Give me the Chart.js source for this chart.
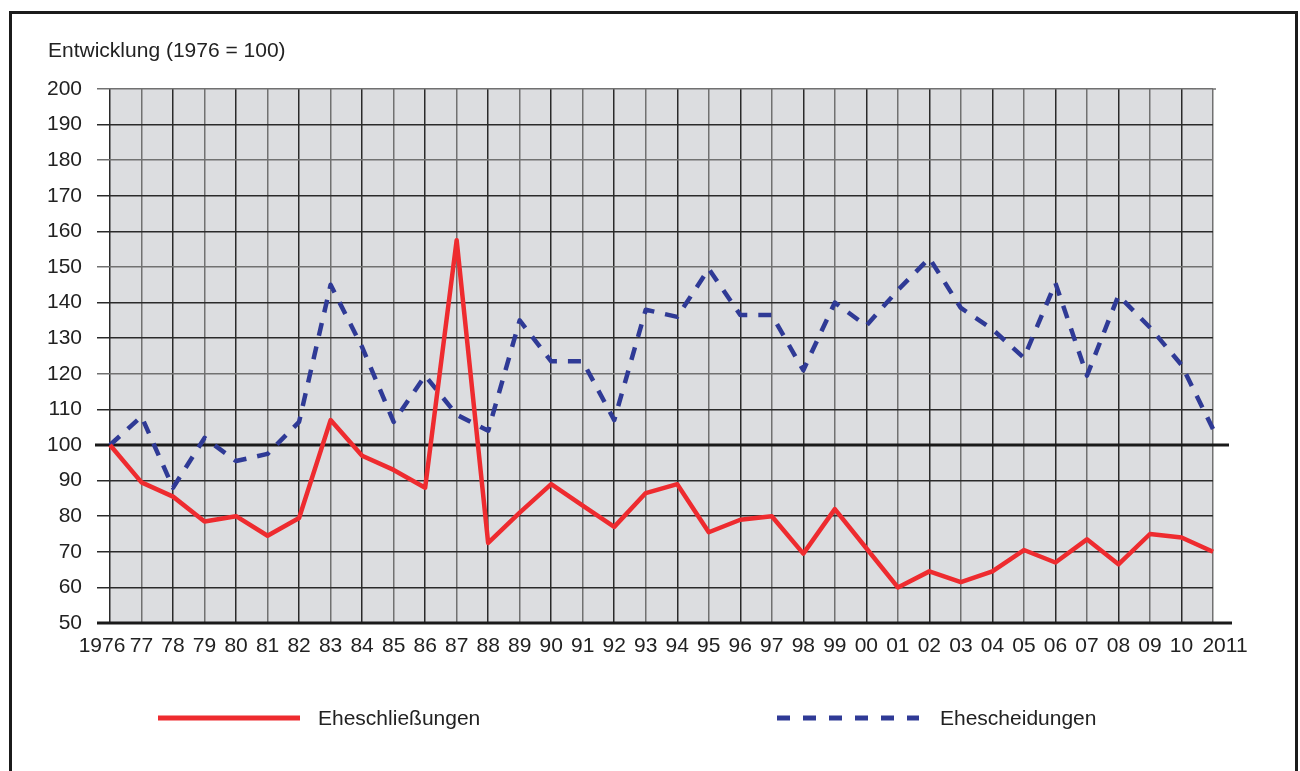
<!DOCTYPE html>
<html lang="de">
<head>
<meta charset="utf-8">
<title>Eheschließungen und Ehescheidungen</title>
<script src="https://cdn.jsdelivr.net/npm/chart.js@4.4.1/dist/chart.umd.min.js"></script>
<style>
  html, body { margin: 0; padding: 0; background: #fff; }
  #wrap { position: relative; width: 1300px; height: 771px; overflow: hidden; }
  #frame { position: absolute; left: 9px; top: 11px; width: 1283px; height: 820px; border: 3px solid #1b1b1b; box-sizing: content-box; }
  #chart { position: absolute; left: 0; top: 0; }
</style>
</head>
<body>
<div id="wrap">
  <div id="frame"></div>
  <canvas id="chart" width="1300" height="771"></canvas>
</div>
<script>
const years = ['1976', '77', '78', '79', '80', '81', '82', '83', '84', '85', '86', '87', '88', '89',
    '90', '91', '92', '93', '94', '95', '96', '97', '98', '99', '00', '01', '02', '03', '04', '05',
    '06', '07', '08', '09', '10', '2011'];

// Entwicklung (1976 = 100)
const marriages = [100, 89.5, 85.5, 78.5, 80, 74.5, 79.5, 107, 97, 93, 88, 157.5, 72.5, 81,
    89, 83, 77, 86.5, 89, 75.5, 79, 80, 69.5, 82, 71, 60, 64.5, 61.5, 64.5, 70.5,
    67, 73.5, 66.5, 75, 74, 70];
const divorces = [100, 108, 88, 102, 95.5, 97.5, 106.5, 145, 127.5, 106.5, 119.5, 108.5, 104, 135,
    123.5, 123.5, 107, 138, 136, 149.5, 136.5, 136.5, 121, 140, 133.5, 143.5, 152.5, 138.5, 132.5, 124.5,
    145.5, 119.5, 142, 133, 122.5, 104.5];

const seriesNames = ['Eheschließungen', 'Ehescheidungen'];
const yMin = 50;
const yMax = 200;
const yStep = 10;
const baseValue = 100;
const titleText = 'Entwicklung (1976 = 100)';

const red = '#ee2b2f';
const blue = '#2f3a96';
const plotBg = '#dcdde0';
const gridDark = '#2a2a2a';
const gridGray = '#717171';
const fontFamily = '"Liberation Sans", Arial, sans-serif';

const decor = {
    id: 'decor',
    beforeDraw(chart) {
        const { ctx, chartArea: a } = chart;
        ctx.save();
        ctx.fillStyle = plotBg;
        ctx.fillRect(a.left, a.top, a.right - a.left, a.bottom - a.top);
        ctx.restore();

        // the four-digit years sit a bit outside, like in the original
        const items = chart.scales.x.getLabelItems(a);
        if (items.length && !items.shifted) {
            items[0].options.translation[0] -= 8;
            items[items.length - 1].options.translation[0] += 12;
            items.shifted = true;
        }
    },
    beforeDatasetsDraw(chart) {
        const { ctx, chartArea: a, scales } = chart;
        ctx.save();
        ctx.strokeStyle = '#1a1a1a';
        ctx.lineWidth = 3;
        // Referenzlinie 100
        const y100 = scales.y.getPixelForValue(baseValue);
        ctx.beginPath();
        ctx.moveTo(a.left - 15, y100);
        ctx.lineTo(a.right + 16, y100);
        ctx.stroke();
        // x-Achse
        const y50 = scales.y.getPixelForValue(yMin);
        ctx.beginPath();
        ctx.moveTo(a.left - 13, y50);
        ctx.lineTo(a.right + 19, y50);
        ctx.stroke();
        // obere Linie etwas nach rechts verlängert
        ctx.strokeStyle = gridGray;
        ctx.lineWidth = 1.5;
        ctx.beginPath();
        ctx.moveTo(a.right, a.top);
        ctx.lineTo(a.right + 3, a.top);
        ctx.stroke();
        ctx.restore();
    },
    afterDraw(chart) {
        const ctx = chart.ctx;
        ctx.save();
        ctx.fillStyle = '#222';
        ctx.font = '21px ' + fontFamily;
        ctx.textBaseline = 'alphabetic';
        ctx.fillText(titleText, 48, 57);

        // Legende
        const items = [
            { x: 158, textX: 318 },
            { x: 777, textX: 940 }
        ];
        const ly = 718;
        chart.data.datasets.forEach((ds, i) => {
            const it = items[i];
            ctx.save();
            ctx.strokeStyle = ds.borderColor;
            ctx.lineWidth = 5;
            ctx.setLineDash(i === 1 ? [13, 13] : []);
            ctx.beginPath();
            ctx.moveTo(it.x, ly);
            ctx.lineTo(it.x + 142, ly);
            ctx.stroke();
            ctx.restore();
            ctx.textBaseline = 'middle';
            ctx.fillText(ds.label, it.textX, ly + 1);
        });
        ctx.restore();
    }
};

new Chart(document.getElementById('chart'), {
    type: 'line',
    data: {
        labels: years,
        datasets: [
            { label: seriesNames[0], data: marriages, borderColor: red, borderWidth: 4.5, borderJoinStyle: 'round', pointRadius: 0, tension: 0, fill: false },
            { label: seriesNames[1], data: divorces, borderColor: blue, borderWidth: 4.5, borderDash: [13, 11], borderJoinStyle: 'round', pointRadius: 0, tension: 0, fill: false }
        ]
    },
    plugins: [decor],
    options: {
        responsive: false,
        animation: false,
        events: [],
        layout: { padding: { top: 89, right: 87, bottom: 103, left: 0 } },
        plugins: { legend: { display: false }, tooltip: { enabled: false }, title: { display: false } },
        scales: {
            x: {
                type: 'category',
                offset: false,
                afterFit: s => { s.height = 45; },
                border: { display: false },
                grid: {
                    drawTicks: false,
                    lineWidth: 1.5,
                    color: c => (c.index % 2 === 0 ? gridDark : gridGray)
                },
                ticks: {
                    autoSkip: false,
                    maxRotation: 0,
                    padding: 11,
                    color: '#222',
                    font: { family: fontFamily, size: 21 }
                }
            },
            y: {
                min: yMin,
                max: yMax,
                afterFit: s => { s.width = 110; },
                border: { display: false },
                grid: {
                    tickLength: 13,
                    lineWidth: 1.5,
                    color: c => {
                        const v = c.tick && c.tick.value;
                        if (v === yMin || v === baseValue) return 'rgba(0,0,0,0)';
                        return [200, 180, 150, 120].includes(v) ? gridGray : gridDark;
                    }
                },
                ticks: {
                    stepSize: yStep,
                    padding: 15,
                    color: '#222',
                    font: { family: fontFamily, size: 21 }
                }
            }
        }
    }
});
</script>
</body>
</html>
